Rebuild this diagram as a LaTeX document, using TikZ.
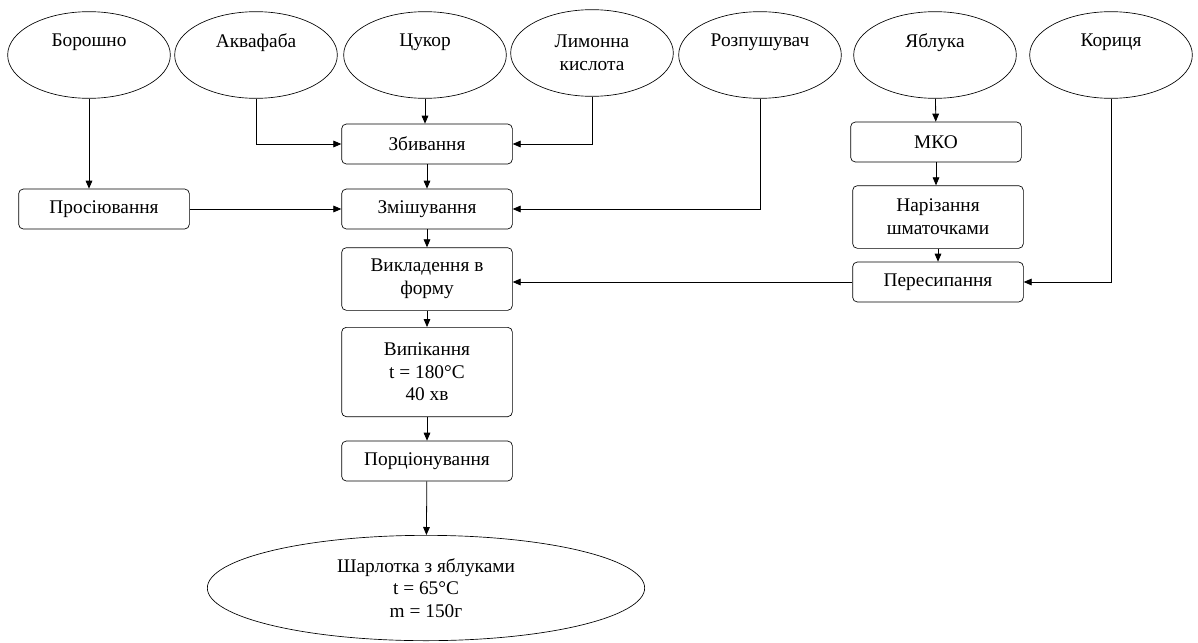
\documentclass[tikz,border=0pt]{standalone}
\usepackage{fontspec}
\setmainfont{Liberation Serif}
\usetikzlibrary{shapes.geometric,arrows.meta,positioning}
\newcommand{\flowfont}{\rmfamily\fontsize{14.5}{17}\selectfont}

\begin{document}
\begin{tikzpicture}[
  x=0.75pt, y=-0.75pt,
  ingr/.style={draw, ellipse, minimum width=122pt, minimum height=65pt, inner sep=1pt, font=\flowfont, align=center, line width=0.5pt},
  proc/.style={draw, rounded corners=3.5pt, minimum width=128pt, minimum height=30pt, font=\flowfont, align=center, line width=0.5pt},
  arrow/.style={-{Triangle[length=6pt,width=5pt]}, line width=0.6pt}
]
\useasboundingbox (0,0) rectangle (1198,642);

% ingredients
\node[ingr] (bor) at (89, 55) {Борошно\\\strut};
\node[ingr] (akv) at (256, 55) {Аквафаба\\\strut};
\node[ingr] (cuk) at (425, 55) {Цукор\\\strut};
\node[ingr] (lim) at (592, 53) {Лимонна\\кислота};
\node[ingr] (roz) at (760, 55) {Розпушувач\\\strut};
\node[ingr] (jab) at (935, 55) {Яблука\\\strut};
\node[ingr] (kor) at (1111, 55) {Кориця\\\strut};

% main line
\node[proc] (zb) at (427, 144) {Збивання};
\node[proc] (pros) at (104, 209) {Просіювання};
\node[proc] (zm) at (427, 209) {Змішування};
\node[proc, minimum height=47pt] (vyk) at (427, 279) {Викладення в\\форму};
\node[proc, minimum height=67pt] (vyp) at (427, 372) {Випікання\\t = 180°C\\40 хв};
\node[proc] (por) at (427, 461) {Порціонування};
\node[ingr, minimum width=328pt, minimum height=79pt] (shar) at (426, 588) {Шарлотка з яблуками\\t = 65°C\\m = 150г};

% apples
\node[proc] (mko) at (936, 142) {МКО};
\node[proc, minimum height=47pt] (nar) at (938, 217) {Нарізання\\шматочками};
\node[proc] (per) at (938, 282) {Пересипання};

\draw[arrow] (bor.south) -- (bor.south |- pros.north);
\draw[arrow] (akv.south) |- (zb.west);
\draw[arrow] (cuk.south) -- (cuk.south |- zb.north);
\draw[arrow] (lim.south) |- (zb.east);
\draw[arrow] (zb) -- (zm);
\draw[arrow] (pros) -- (zm);
\draw[arrow] (roz.south) |- (zm.east);
\draw[arrow] (zm) -- (vyk);
\draw[arrow] (jab) -- (mko);
\draw[arrow] (mko) -- (mko |- nar.north);
\draw[arrow] (nar) -- (per);
\draw[arrow] (kor.south) |- (per.east);
\draw[arrow] (per.west) -- (per.west -| vyk.east);
\draw[arrow] (vyk) -- (vyp);
\draw[arrow] (vyp) -- (por);
\draw[arrow] (por) -- (shar);
\end{tikzpicture}
\end{document}
